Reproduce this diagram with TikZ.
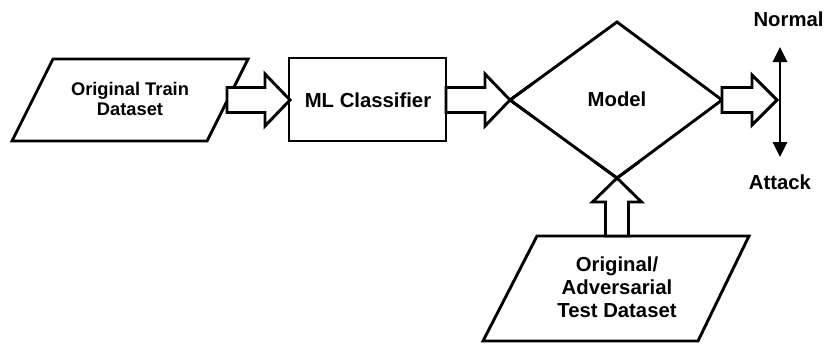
\documentclass[tikz,border=0pt]{standalone}
\usepackage{fontspec}
\setmainfont{Liberation Sans}
\usetikzlibrary{arrows.meta,calc}
\begin{document}
\begin{tikzpicture}[x=1pt,y=-1pt,
  shapeline/.style={draw, line width=2.9pt, line join=miter, fill=white},
  lblsmall/.style={font=\fontsize{18.3}{19.5}\selectfont\bfseries, align=center, inner sep=0pt},
  lbl/.style={font=\fontsize{20.3}{22}\selectfont\bfseries, align=center, inner sep=0pt},
  lbltall/.style={font=\fontsize{20.3}{23}\selectfont\bfseries, align=center, inner sep=0pt},
  blockarrow/.style={draw, line width=2.9pt, line join=miter, fill=white}]
\useasboundingbox (0,0) rectangle (826,343);
% shapes
\draw[shapeline] (53,59) -- (248,59) -- (207,141) -- (12,141) -- cycle;
\draw[shapeline] (289,58) rectangle (446,141);
\draw[shapeline] (510,100) -- (617,22) -- (722,100) -- (617,178) -- cycle;
\draw[shapeline] (537,236) -- (749,236) -- (698,341) -- (483,341) -- cycle;
% labels
\node[lblsmall] (train) at (130,99) {Original Train\\Dataset};
\node[lbl] (ml) at (368,100) {ML Classifier};
\node[lbl] (model) at (617,99) {Model};
\node[lbltall] (test) at (617,287) {Original/\\Adversarial\\Test Dataset};
\node[lbl] (normal) at (788.5,19) {Normal};
\node[lbl] (attack) at (780,182.5) {Attack};
% connector end points
\coordinate (a1s) at (227,100); \coordinate (a1e) at (290,100);
\coordinate (a2s) at (446,100); \coordinate (a2e) at (510,100);
\coordinate (a3s) at (722,100); \coordinate (a3e) at (777,100);
\coordinate (a4s) at (617,236); \coordinate (a4e) at (617,178);
\coordinate (top) at (780,47); \coordinate (bot) at (780,157);
% block arrows (right)
\draw[blockarrow] ($(a1s)+(0,-12.5)$) -- ($(a1e)+(-25,-12.5)$) -- ($(a1e)+(-25,-26)$) -- (a1e)
  -- ($(a1e)+(-25,26)$) -- ($(a1e)+(-25,12.5)$) -- ($(a1s)+(0,12.5)$) -- cycle;
\draw[blockarrow] ($(a2s)+(0,-12.5)$) -- ($(a2e)+(-25,-12.5)$) -- ($(a2e)+(-25,-26)$) -- (a2e)
  -- ($(a2e)+(-25,26)$) -- ($(a2e)+(-25,12.5)$) -- ($(a2s)+(0,12.5)$) -- cycle;
\draw[blockarrow] ($(a3s)+(0,-12.5)$) -- ($(a3e)+(-25,-12.5)$) -- ($(a3e)+(-25,-25)$) -- (a3e)
  -- ($(a3e)+(-25,25)$) -- ($(a3e)+(-25,12.5)$) -- ($(a3s)+(0,12.5)$) -- cycle;
% block arrow (up)
\draw[blockarrow] ($(a4s)+(-11.5,0)$) -- ($(a4e)+(-11.5,24)$) -- ($(a4e)+(-24.5,24)$) -- (a4e)
  -- ($(a4e)+(24.5,24)$) -- ($(a4e)+(11.5,24)$) -- ($(a4s)+(11.5,0)$) -- cycle;
% redraw diamond edges over arrow tips
\draw[line width=2.9pt] (a2e) -- +(22,-16) (a2e) -- +(22,16);
\draw[line width=2.9pt] (a4e) -- +(-22,-16) (a4e) -- +(22,-16);
% output double arrow
\draw[line width=2.9pt, {Triangle[width=14pt,length=15pt]}-{Triangle[width=14pt,length=15pt]}] (top) -- (bot);
\end{tikzpicture}
\end{document}
